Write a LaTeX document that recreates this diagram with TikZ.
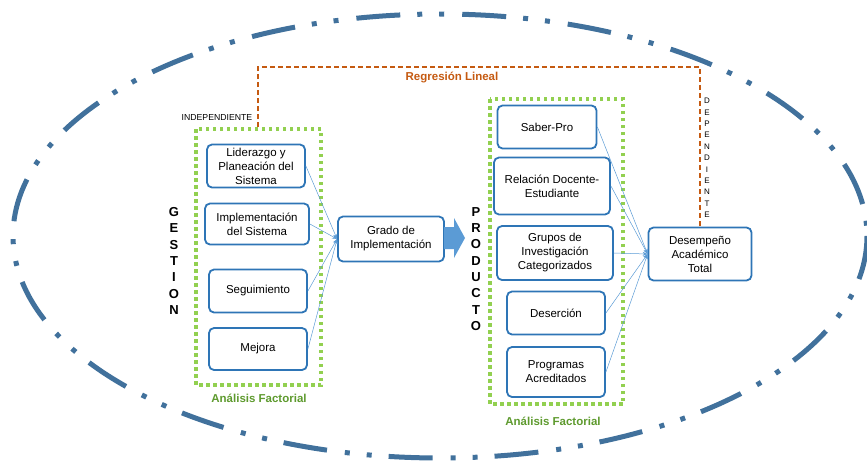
\documentclass[tikz,border=0pt]{standalone}
\usepackage{fontspec}
\setmainfont{Liberation Sans}
\usetikzlibrary{arrows.meta}
\definecolor{elipse}{HTML}{41719C}
\definecolor{borde}{HTML}{2E75B6}
\definecolor{flecha}{HTML}{5B9BD5}
\definecolor{verde}{HTML}{92D050}
\definecolor{verdetxt}{HTML}{5E9A2E}
\definecolor{naranja}{HTML}{C55A11}
\begin{document}
\begin{tikzpicture}[x=1pt,y=-1pt,
    caja/.style={draw=borde,line width=1.8pt,rounded corners=5pt,fill=white,
                 align=center,font=\fontsize{11.5}{14}\selectfont,inner sep=1pt},
    grupo/.style={draw=verde,line width=3.5pt,dash pattern=on 3.5pt off 3.5pt},
    enlace/.style={draw=flecha,line width=0.5pt,-{Stealth[length=5pt,width=4pt]}},
    vertical/.style={align=center,font=\bfseries\fontsize{13}{16.3}\selectfont},
    titulo/.style={text=verdetxt,font=\bfseries\fontsize{11.5}{13}\selectfont}]
    \useasboundingbox (0,0) rectangle (867,463);
    % elipse exterior
    \draw[elipse,line width=5pt,dash pattern=on 44pt off 17pt on 5pt off 17pt on 5pt off 18pt]
        (440,236) ellipse [x radius=427,y radius=222];
    % grupos punteados
    \draw[grupo] (196,129) rectangle (321,385);
    \draw[grupo] (490,99) rectangle (623,404);
    % regresion
    \node (desemp) at (700,254) [caja,minimum width=103pt,minimum height=53pt]
        {Desempeño\\Académico\\Total};
    \draw[naranja,line width=1.8pt,dash pattern=on 5pt off 3pt]
        (258,127) -- (258,67) -- (700,67) -- (desemp.north);
    \node (regresion) at (452,78) [text=naranja,font=\bfseries\fontsize{11.5}{13}\selectfont] {Regresión Lineal};
    \node (indep) at (217,118) [font=\fontsize{8.7}{10}\selectfont] {INDEPENDIENTE};
    \node (dep) at (707,158) [align=center,font=\fontsize{8}{11.4}\selectfont]
        {D\\E\\P\\E\\N\\D\\I\\E\\N\\T\\E};
    % gestion
    \node (gestion) at (174,261) [vertical] {G\\E\\S\\T\\I\\O\\N};
    \node (lider) at (256,166) [caja,minimum width=98pt,minimum height=43pt]
        {Liderazgo y\\Planeación del\\Sistema};
    \node (implem) at (257,224) [caja,minimum width=104pt,minimum height=41pt]
        {Implementación\\del Sistema};
    \node (segui) at (258,291) [caja,minimum width=98pt,minimum height=43pt] {Seguimiento};
    \node (mejora) at (258,349) [caja,minimum width=98pt,minimum height=42pt] {Mejora};
    \node (grado) at (391,239) [caja,minimum width=106pt,minimum height=45pt]
        {Grado de\\Implementación};
    \node (factor1) at (259,398) [titulo] {Análisis Factorial};
    \foreach \n in {lider,implem,segui,mejora}
        \draw[enlace] (\n.east) -- (grado.west);
    % flecha gruesa
    \fill[flecha] (444,227) -- (454,227) -- (454,218) -- (465,238)
        -- (454,258) -- (454,249) -- (444,249) -- cycle;
    % producto
    \node (producto) at (476,269) [vertical] {P\\R\\O\\D\\U\\C\\T\\O};
    \node (saber) at (547,127) [caja,minimum width=99pt,minimum height=43pt] {Saber-Pro};
    \node (relacion) at (552,186) [caja,minimum width=116pt,minimum height=57pt]
        {Relación Docente-\\Estudiante};
    \node (grupos) at (555,253) [caja,minimum width=116pt,minimum height=54pt]
        {Grupos de\\Investigación\\Categorizados};
    \node (desercion) at (556,313) [caja,minimum width=98pt,minimum height=43pt] {Deserción};
    \node (programas) at (556,372) [caja,minimum width=98pt,minimum height=50pt]
        {Programas\\Acreditados};
    \node (factor2) at (553,421) [titulo] {Análisis Factorial};
    \foreach \n in {saber,relacion,grupos,desercion,programas}
        \draw[enlace] (\n.east) -- (desemp.west);
\end{tikzpicture}
\end{document}
